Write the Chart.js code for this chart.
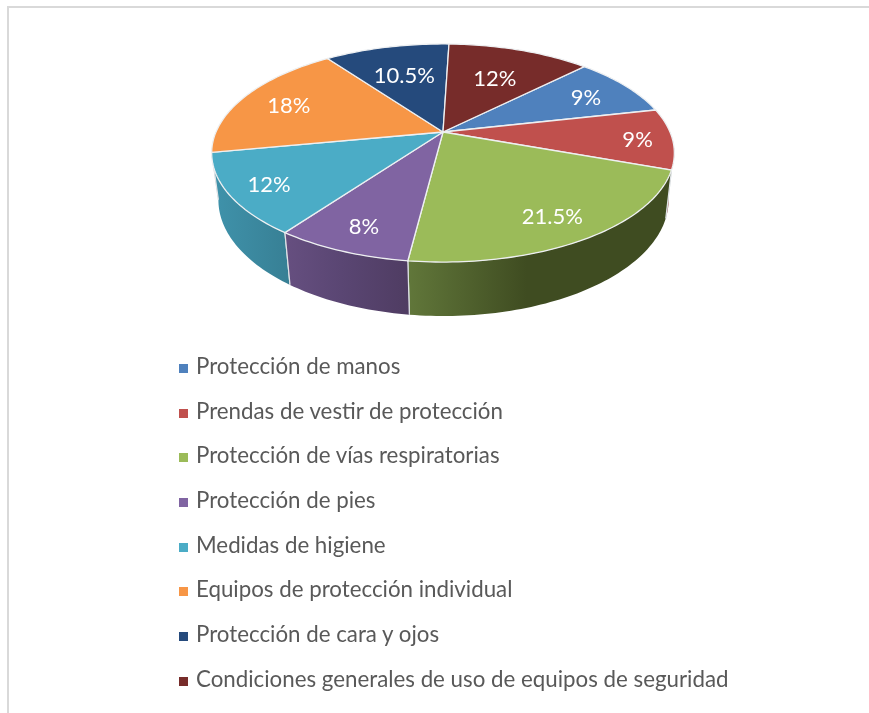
<!DOCTYPE html>
<html>
<head>
<meta charset="utf-8">
<title>Equipos de protección</title>
<script src="https://cdn.jsdelivr.net/npm/chart.js@4/dist/chart.umd.min.js"></script>
<style>
  html, body { margin: 0; padding: 0; background: #fff; overflow: hidden; }
  #frame { position: absolute; left: 7px; top: 6px; right: 0; bottom: 0; border-left: 2px solid #d9d9d9; border-top: 2px solid #d9d9d9; }
  #grafico { position: absolute; left: 0; top: 0; }
  #leyenda { position: absolute; left: 179px; top: 344px; margin: 0; padding: 0; list-style: none; font: 22.3px Lato; color: #595959; }
  #leyenda li { height: 44.7px; line-height: 44.7px; white-space: nowrap; }
  #leyenda span { display: inline-block; width: 9px; height: 9px; margin-right: 8px; vertical-align: 1px; }
</style>
</head>
<body>
<div id="frame"></div>
<canvas id="grafico" width="869" height="713"></canvas>
<ul id="leyenda"></ul>
<script>
const categorias = [
  "Protección de manos",
  "Prendas de vestir de protección",
  "Protección de vías respiratorias",
  "Protección de pies",
  "Medidas de higiene",
  "Equipos de protección individual",
  "Protección de cara y ojos",
  "Condiciones generales de uso de equipos de seguridad"
];
const valores = [9, 9, 21.5, 8, 12, 18, 10.5, 12];
const colores = ["#4f81bd", "#c0504d", "#9bbb59", "#8064a2", "#4bacc6", "#f79646", "#254a7c", "#772c2a"];
// lado de cada porcion: izquierda, centro, derecha
const coloresLado = [
  ["#7a2f2d", "#7a2f2d", "#7a2f2d"],
  ["#7a2f2d", "#7a2f2d", "#7a2f2d"],
  ["#61773a", "#3f4c21", "#3f4c21"],
  ["#664f80", "#5a4673", "#4f3c62"],
  ["#3f93ab", "#3c8aa1", "#377f94"],
  ["#a8622c", "#a8622c", "#a8622c"],
  ["#1c3558", "#1c3558", "#1c3558"],
  ["#4d1c1b", "#4d1c1b", "#4d1c1b"]
];
// que tan lejos del centro va cada etiqueta (1 = borde)
const radioEtiqueta = [0.77, 0.85, 0.8, 0.81, 0.83, 0.77, 0.65, 0.64];

// proyeccion del disco de arriba y del de abajo (perspectiva)
const arriba = { cx: 443, cy: 132, a: 227, b: 105, k: 0.1926 };
const abajo = { cx: 443.5, cy: 178, a: 221, b: 111.8, k: 0.19 };

function proyectar(disco, angulo, r) {
  const u = r * Math.cos(angulo), v = r * Math.sin(angulo);
  const d = 1 - disco.k * v;
  return { x: disco.cx + disco.a * u / d, y: disco.cy + disco.b * v / d };
}

function muestras(a0, a1) {
  const n = Math.max(2, Math.ceil((a1 - a0) / 0.02));
  const out = [];
  for (let i = 0; i <= n; i++) out.push(a0 + (a1 - a0) * i / n);
  return out;
}

const pastel3d = {
  id: "pastel3d",
  beforeDatasetDraw() { return false; },
  afterDatasetsDraw(chart) {
    const ctx = chart.ctx;
    const arcos = chart.getDatasetMeta(0).data;

    // lados, primero los de atras
    const orden = arcos.map((_, i) => i).sort((p, q) => {
      const mp = (arcos[p].startAngle + arcos[p].endAngle) / 2;
      const mq = (arcos[q].startAngle + arcos[q].endAngle) / 2;
      return Math.abs(mq - Math.PI / 2) - Math.abs(mp - Math.PI / 2);
    });
    orden.forEach(i => {
      const a0 = Math.max(arcos[i].startAngle, 0);
      const a1 = Math.min(arcos[i].endAngle, Math.PI);
      if (a1 <= a0) return;
      const angs = muestras(a0, a1);
      const sup = angs.map(t => proyectar(arriba, t, 1));
      const inf = angs.map(t => proyectar(abajo, t, 1));
      const xs = sup.concat(inf).map(p => p.x);
      const g = ctx.createLinearGradient(Math.min(...xs), 0, Math.max(...xs), 0);
      g.addColorStop(0, coloresLado[i][0]);
      g.addColorStop(0.45, coloresLado[i][1]);
      g.addColorStop(1, coloresLado[i][2]);
      ctx.beginPath();
      sup.forEach((p, j) => j ? ctx.lineTo(p.x, p.y) : ctx.moveTo(p.x, p.y));
      inf.reverse().forEach(p => ctx.lineTo(p.x, p.y));
      ctx.closePath();
      ctx.fillStyle = g;
      ctx.fill();
      ctx.strokeStyle = "#dfe3e6";
      ctx.lineWidth = 1.2;
      ctx.beginPath();
      const s0 = proyectar(arriba, a0, 1), i0 = proyectar(abajo, a0, 1);
      const s1 = proyectar(arriba, a1, 1), i1 = proyectar(abajo, a1, 1);
      if (a0 > 0) { ctx.moveTo(s0.x, s0.y); ctx.lineTo(i0.x, i0.y); }
      if (a1 < Math.PI) { ctx.moveTo(s1.x, s1.y); ctx.lineTo(i1.x, i1.y); }
      ctx.stroke();
    });

    // cara superior
    arcos.forEach((arco, i) => {
      ctx.beginPath();
      ctx.moveTo(arriba.cx, arriba.cy);
      muestras(arco.startAngle, arco.endAngle).forEach(t => {
        const p = proyectar(arriba, t, 1);
        ctx.lineTo(p.x, p.y);
      });
      ctx.closePath();
      ctx.fillStyle = colores[i];
      ctx.fill();
      ctx.strokeStyle = "#eef0f2";
      ctx.lineWidth = 1.3;
      ctx.stroke();
    });

    // etiquetas
    ctx.font = "22px Lato";
    ctx.fillStyle = "#ffffff";
    ctx.textAlign = "center";
    ctx.textBaseline = "middle";
    arcos.forEach((arco, i) => {
      const medio = (arco.startAngle + arco.endAngle) / 2;
      const p = proyectar(arriba, medio, radioEtiqueta[i]);
      ctx.fillText(valores[i] + "%", p.x, p.y + 2);
    });
  }
};

// leyenda en html, con los items que da el propio grafico
const leyendaHtml = {
  id: "leyendaHtml",
  afterUpdate(chart) {
    const ul = document.getElementById("leyenda");
    ul.innerHTML = "";
    chart.options.plugins.legend.labels.generateLabels(chart).forEach(item => {
      const li = document.createElement("li");
      const caja = document.createElement("span");
      caja.style.background = item.fillStyle;
      li.appendChild(caja);
      li.appendChild(document.createTextNode(item.text));
      ul.appendChild(li);
    });
  }
};

new Chart(document.getElementById("grafico"), {
  type: "pie",
  data: {
    labels: categorias,
    datasets: [{ data: valores, backgroundColor: colores, borderWidth: 0 }]
  },
  options: {
    responsive: false,
    animation: false,
    rotation: 45,
    plugins: {
      tooltip: { enabled: false },
      legend: { display: false }
    }
  },
  plugins: [pastel3d, leyendaHtml]
});
</script>
</body>
</html>
